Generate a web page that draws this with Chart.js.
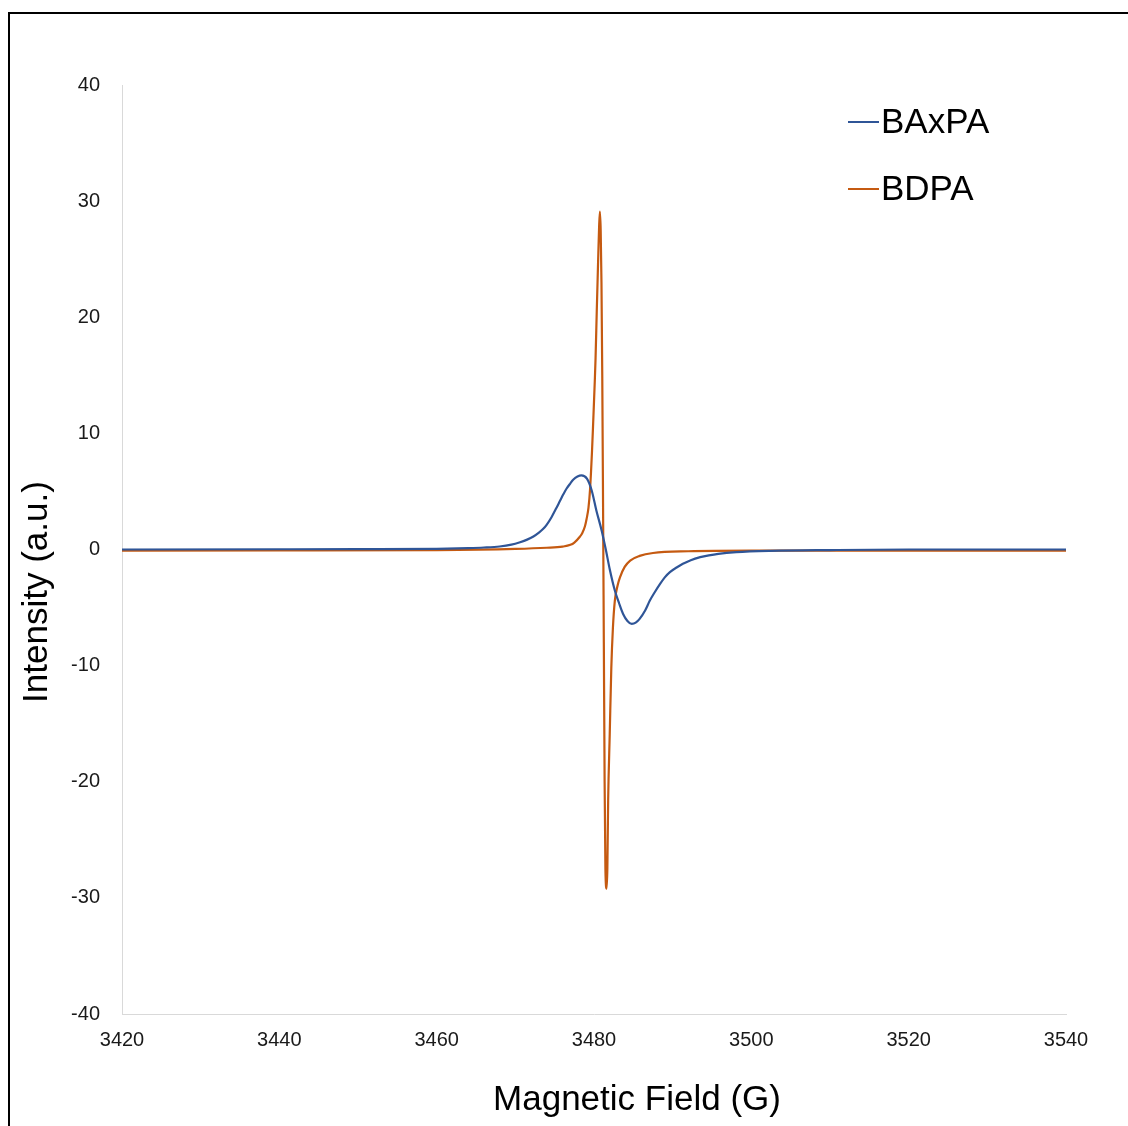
<!DOCTYPE html>
<html>
<head>
<meta charset="utf-8">
<title>EPR spectra</title>
<script src="https://cdn.jsdelivr.net/npm/chart.js@4"></script>
<style>
    html, body { margin: 0; padding: 0; background: #fff; }
    #wrap { width: 1128px; height: 1126px; position: relative; }
</style>
</head>
<body>
<div id="wrap"><canvas id="eprChart"></canvas></div>
<script>
// Values (field in G, intensity in a.u.)
const baxpaField = [3420, 3440, 3450, 3460, 3464, 3466, 3468, 3469.5, 3470.6, 3471.5, 3472.3, 3473,
    3473.55, 3474, 3474.6, 3475.2, 3475.7, 3476.1, 3476.5, 3477, 3477.35, 3477.9, 3478.4, 3479.1,
    3479.7, 3480.3, 3480.97, 3481.5, 3482, 3482.65, 3483.2, 3483.7, 3484.25, 3484.8, 3485.3, 3485.8,
    3486.5, 3487.1, 3487.7, 3488.4, 3489, 3489.65, 3490.5, 3491.3, 3492.3, 3493.5, 3494.6, 3495.8,
    3498.1, 3502.4, 3510, 3520, 3540];
const baxpaIntensity = [0, 0.02, 0.03, 0.06, 0.12, 0.17, 0.26, 0.42, 0.63, 0.85, 1.12, 1.45,
    1.78, 2.15, 2.78, 3.55, 4.22, 4.75, 5.23, 5.7, 6.0, 6.28, 6.38, 6.1,
    5.1, 3.36, 1.64, 0, -1.7, -3.53, -4.65, -5.55, -6.15, -6.4, -6.3, -5.97,
    -5.25, -4.4, -3.7, -2.96, -2.4, -1.95, -1.55, -1.23, -0.92, -0.66, -0.5, -0.37,
    -0.23, -0.12, -0.05, 0, 0];

const bdpaField = [3420, 3440, 3460, 3470, 3474, 3476, 3477, 3477.5, 3478.2, 3478.5, 3478.85, 3479.05,
    3479.3, 3479.5, 3479.75, 3479.9, 3480.1, 3480.2, 3480.35, 3480.45, 3480.55, 3480.65, 3480.75,
    3480.85, 3480.95, 3481.05, 3481.15, 3481.25, 3481.35, 3481.45, 3481.6, 3481.7, 3481.8, 3482,
    3482.2, 3482.4, 3482.65, 3483, 3483.3, 3483.9, 3484.6, 3485.8, 3487.5, 3492, 3500, 3520, 3540];
const bdpaIntensity = [-0.1, -0.08, -0.05, 0.05, 0.15, 0.25, 0.4, 0.6, 1.1, 1.4, 2.0, 2.6,
    3.6, 5.2, 8.5, 11, 14.5, 16.5, 20.5, 23, 25.5, 27.8, 29.1,
    27.5, 23, 15, 4, -8, -20, -27.5, -29.2, -27.4, -21.6, -15.9,
    -10.2, -6.8, -4.4, -3.1, -2.4, -1.5, -0.95, -0.55, -0.3, -0.15, -0.1, -0.1, -0.1];

const seriesNames = ['BAxPA', 'BDPA'];
const seriesColors = ['#2f5597', '#c55a11'];

const fieldTicks = [3420, 3440, 3460, 3480, 3500, 3520, 3540];
const intensityTicks = [-40, -30, -20, -10, 0, 10, 20, 30, 40];

function toPoints(xs, ys) {
    return xs.map((x, i) => ({ x: x, y: ys[i] }));
}

const FONT = '"Liberation Sans", Arial, sans-serif';

// Frame, axis titles and legend drawn on top of the chart
const decorations = {
    id: 'decorations',
    afterDraw(chart) {
        const ctx = chart.ctx;
        ctx.save();

        // outer frame (runs off the right and bottom edges)
        ctx.strokeStyle = '#000';
        ctx.lineWidth = 2;
        ctx.strokeRect(9, 13, 1140, 1140);

        ctx.fillStyle = '#000';
        ctx.font = '35px ' + FONT;
        ctx.textAlign = 'center';
        ctx.textBaseline = 'middle';
        ctx.fillText('Magnetic Field (G)', 637, 1100);

        ctx.save();
        ctx.translate(37, 592);
        ctx.rotate(-Math.PI / 2);
        ctx.fillText('Intensity (a.u.)', 0, 0);
        ctx.restore();

        // legend
        ctx.textAlign = 'left';
        chart.data.datasets.forEach((ds, i) => {
            const y = 122 + i * 67;
            ctx.strokeStyle = ds.borderColor;
            ctx.lineWidth = 2;
            ctx.beginPath();
            ctx.moveTo(848, y);
            ctx.lineTo(879, y);
            ctx.stroke();
            ctx.fillStyle = '#000';
            ctx.fillText(ds.label, 881, y + 1);
        });

        ctx.restore();
    }
};

const ctx = document.getElementById('eprChart');
new Chart(ctx, {
    type: 'line',
    data: {
        datasets: [{
            label: seriesNames[0],
            data: toPoints(baxpaField, baxpaIntensity),
            borderColor: seriesColors[0],
            borderWidth: 2.2,
            pointRadius: 0,
            cubicInterpolationMode: 'monotone'
        }, {
            label: seriesNames[1],
            data: toPoints(bdpaField, bdpaIntensity),
            borderColor: seriesColors[1],
            borderWidth: 2.2,
            pointRadius: 0,
            cubicInterpolationMode: 'monotone'
        }]
    },
    options: {
        responsive: true,
        maintainAspectRatio: false,
        animation: false,
        layout: { padding: { top: 85, right: 62, left: 0, bottom: 0 } },
        plugins: {
            legend: { display: false },
            tooltip: { enabled: false }
        },
        scales: {
            x: {
                type: 'linear',
                min: fieldTicks[0],
                max: fieldTicks[fieldTicks.length - 1],
                afterBuildTicks: (scale) => { scale.ticks = fieldTicks.map(v => ({ value: v })); },
                afterFit: (scale) => { scale.height = 112; },
                grid: { display: false, drawTicks: false },
                border: { display: true, color: '#d9d9d9', width: 1 },
                ticks: {
                    padding: 14,
                    color: '#1a1a1a',
                    font: { family: FONT, size: 20 },
                    maxRotation: 0,
                    callback: (v) => String(v)
                }
            },
            y: {
                type: 'linear',
                min: intensityTicks[0],
                max: intensityTicks[intensityTicks.length - 1],
                afterBuildTicks: (scale) => { scale.ticks = intensityTicks.map(v => ({ value: v })); },
                afterFit: (scale) => { scale.width = 122; },
                grid: { display: false, drawTicks: false },
                border: { display: true, color: '#d9d9d9', width: 1 },
                ticks: {
                    padding: 22,
                    color: '#1a1a1a',
                    font: { family: FONT, size: 20 },
                    callback: (v) => String(v)
                }
            }
        }
    },
    plugins: [decorations]
});
</script>
</body>
</html>
